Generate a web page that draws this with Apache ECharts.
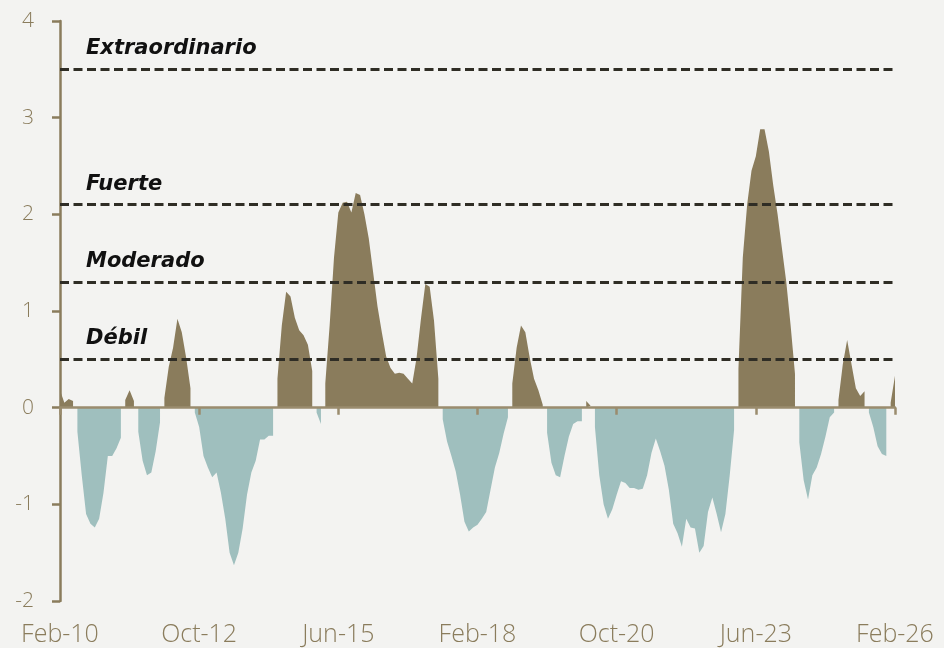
<!DOCTYPE html>
<html>
<head>
<meta charset="utf-8">
<script src="https://cdn.jsdelivr.net/npm/echarts@6/dist/echarts.min.js"></script>
<style>
  html, body { margin: 0; padding: 0; background: #F3F3F1; }
  #chart { width: 944px; height: 648px; }
</style>
</head>
<body>
<div id="chart"></div>
<script>
// valores mensuales, Feb-10 a Feb-26
const indice = [
  0.18, 0.05, 0.09, 0.07,
  -0.25, -0.7, -1.1, -1.2, -1.24, -1.15, -0.88, -0.5, -0.5, -0.42, -0.31,
  0.08, 0.18, 0.07,
  -0.25, -0.55, -0.7, -0.67, -0.45, -0.15,
  0.1, 0.42, 0.62, 0.92, 0.78, 0.52, 0.2,
  -0.05, -0.2, -0.5, -0.62, -0.72, -0.67, -0.88, -1.15, -1.5, -1.63, -1.5, -1.25, -0.9, -0.67, -0.55, -0.33, -0.33, -0.29, -0.29,
  0.3, 0.85, 1.2, 1.15, 0.93, 0.8, 0.75, 0.65, 0.38,
  -0.05, -0.17,
  0.25, 0.85, 1.55, 2.02, 2.12, 2.13, 2.02, 2.22, 2.2, 2.0, 1.75, 1.4, 1.05, 0.78, 0.53, 0.41, 0.35, 0.36, 0.35, 0.3, 0.25, 0.52, 0.92, 1.28, 1.25, 0.9, 0.3,
  -0.12, -0.35, -0.5, -0.66, -0.9, -1.18, -1.28, -1.24, -1.21, -1.15, -1.08, -0.85, -0.62, -0.47, -0.27, -0.1,
  0.25, 0.62, 0.85, 0.78, 0.52, 0.3, 0.18, 0.03,
  -0.26, -0.57, -0.7, -0.72, -0.5, -0.3, -0.17, -0.14, -0.14,
  0.07, 0.02,
  -0.2, -0.7, -1.0, -1.15, -1.05, -0.9, -0.76, -0.78, -0.83, -0.83, -0.85, -0.84, -0.7, -0.47, -0.32, -0.45, -0.6, -0.85, -1.2, -1.3, -1.44, -1.15, -1.24, -1.25, -1.5, -1.43, -1.08, -0.93, -1.1, -1.29, -1.1, -0.7, -0.23,
  0.4, 1.55, 2.1, 2.45, 2.6, 2.88, 2.88, 2.65, 2.3, 2.0, 1.65, 1.3, 0.85, 0.35,
  -0.36, -0.75, -0.95, -0.7, -0.62, -0.48, -0.3, -0.1, -0.05,
  0.08, 0.45, 0.7, 0.45, 0.2, 0.12, 0.17,
  -0.05, -0.2, -0.4, -0.48, -0.5,
  0.05, 0.33
]

const meses = ['Jan', 'Feb', 'Mar', 'Apr', 'May', 'Jun', 'Jul', 'Aug', 'Sep', 'Oct', 'Nov', 'Dec']
const umbrales = [3.5, 2.1, 1.3, 0.5]
const umbralNombres = ['Extraordinario', 'Fuerte', 'Moderado', 'Débil']

// etiquetas de categoria: Feb-10, Mar-10, ...
const fechas = indice.map((v, i) => {
  const m = (1 + i) % 12
  const y = 10 + Math.floor((1 + i) / 12)
  return meses[m] + '-' + y
})

const positivos = indice.map(v => (v >= 0 ? v : null))
const negativos = indice.map(v => (v < 0 ? v : null))

const marron = '#8A7C5C'
const ejeColor = '#9A8C6E'

const chart = echarts.init(document.getElementById('chart'))
chart.setOption({
  backgroundColor: '#F3F3F1',
  animation: false,
  grid: { left: 60, right: 49, top: 21, bottom: 47 },
  xAxis: [
    {
      type: 'category',
      data: fechas,
      boundaryGap: false,
      z: 10,
      axisLine: { onZero: true, lineStyle: { color: ejeColor, width: 2.5 } },
      axisTick: { show: true, interval: 31, length: 7, lineStyle: { color: ejeColor, width: 2.5 } },
      axisLabel: { show: false },
      splitLine: { show: false },
    },
    {
      type: 'category',
      data: fechas,
      boundaryGap: false,
      position: 'bottom',
      axisLine: { show: false, onZero: false },
      axisTick: { show: false },
      axisLabel: {
        interval: 31,
        margin: 21,
        color: marron,
        fontFamily: 'Open Sans',
        fontWeight: 300,
        fontSize: 25,
      },
      splitLine: { show: false },
    },
  ],
  yAxis: {
    type: 'value',
    min: -2,
    max: 4,
    interval: 1,
    axisLine: { show: true, lineStyle: { color: marron, width: 2.5 } },
    axisTick: { show: true, length: 8, lineStyle: { color: marron, width: 2.5 } },
    axisLabel: {
      margin: 26,
      color: marron,
      fontFamily: 'Open Sans',
      fontWeight: 300,
      fontSize: 21,
    },
    splitLine: { show: false },
  },
  series: [
    {
      name: 'positivo',
      type: 'line',
      data: positivos,
      xAxisIndex: 0,
      showSymbol: false,
      connectNulls: false,
      lineStyle: { width: 0 },
      areaStyle: { color: marron, opacity: 1 },
      markLine: {
        silent: true,
        symbol: ['none', 'none'],
        lineStyle: { color: '#2F2D25', width: 3, type: [9, 4.5] },
        label: {
          show: true,
          position: 'insideStartTop',
          formatter: '{b}',
          distance: [26, 10],
          color: '#111',
          fontFamily: 'DejaVu Sans',
          fontStyle: 'italic',
          fontWeight: 'bold',
          fontSize: 21,
        },
        data: umbrales.map((u, i) => ({ yAxis: u, name: umbralNombres[i] })),
      },
    },
    {
      name: 'negativo',
      type: 'line',
      data: negativos,
      xAxisIndex: 0,
      showSymbol: false,
      connectNulls: false,
      lineStyle: { width: 0 },
      areaStyle: { color: '#9FBFBE', opacity: 1 },
    },
  ],
})
</script>
</body>
</html>
